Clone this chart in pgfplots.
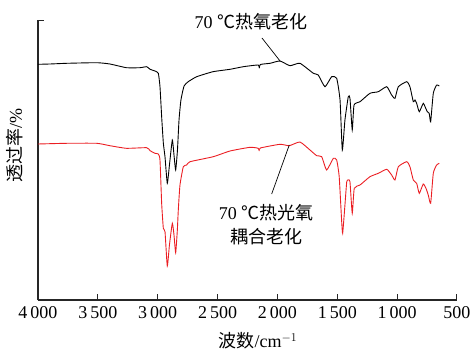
\documentclass[border=0pt]{standalone}
\usepackage{pgfplots}
\pgfplotsset{compat=1.18}
\usepackage{fontspec}
\setmainfont{Liberation Serif}
\newfontfamily\cjk{Noto Sans CJK SC}
\definecolor{myred}{RGB}{235,30,35}
\begin{document}
\begin{tikzpicture}
\path[use as bounding box] (-38bp,-52bp) rectangle (435bp,300bp);
\begin{axis}[
  scale only axis, width=419bp, height=280bp,
  at={(0,0)}, anchor=south west,
  x dir=reverse, xmin=500, xmax=4000, ymin=0, ymax=280,
  axis x line=bottom, axis y line=left,
  axis line style={-, line width=1.1bp, black!85},
  xtick={500,1000,1500,2000,2500,3000,3500,4000},
  xticklabels={500,1\,000,1\,500,2\,000,2\,500,3\,000,3\,500,4\,000},
  ytick={280}, yticklabels={},
  tick align=inside, major tick length=6bp,
  tick style={line width=1bp, black!85},
  font=\fontsize{18bp}{21bp}\selectfont,
  /pgf/number format/assume math mode=true,
  xticklabel style={yshift=-3bp},
  clip=false,
]
\addplot[black, line width=0.9bp, smooth, tension=0.3] coordinates {
(4000,235.7)(3900,236)(3761,236.7)(3510,237.3)(3399,236)(3261,232.3)(3148,232.3)
(3092,233.3)(3064,230.7)(3023,229)(2995,226.7)(2981,213.3)(2967,183.3)(2953,157)
(2939,143)(2920,116.7)(2902,135)(2878,160)(2864,145)(2850,130)(2835,150)(2822,180)
(2806,200)(2780,214)(2745,218.3)(2674,223.3)(2538,228.3)(2396,230.7)(2285,233.3)
(2160,235)(2152,231.7)(2143,235.5)(2062,236.7)(1979,239)(1895,234.3)(1812,236.7)
(1700,226.7)(1659,225)(1603,213.3)(1547,223.3)(1505,221.7)(1477,200)(1458,150)
(1436,180)(1408,203.3)(1394,201.7)(1375,170)(1360,195)(1310,198.3)(1227,206.7)
(1157,208.3)(1087,213.3)(1046,205)(1018,201.7)(990,213.3)(920,218.3)(893,213.3)
(865,198.3)(851,200)(837,196.7)(815,188.3)(782,196.7)(767,193.3)(748,188.3)
(732,186.7)(720,178.3)(698,206.7)(670,215)(648,214)
};
\addplot[myred, line width=0.9bp, smooth, tension=0.3] coordinates {
(4000,156)(3761,156.7)(3510,156.7)(3399,154.3)(3261,151.7)(3092,152.3)(3064,149.3)
(3023,146.7)(2995,146)(2981,140)(2967,96.7)(2953,71.7)(2939,68.3)(2920,34)
(2902,55)(2878,76.7)(2864,65)(2850,47.3)(2836,70)(2828,90)(2814,115)(2786,133.3)
(2758,135)(2730,138.3)(2536,143.3)(2396,149)(2229,152.7)(2160,151.7)(2152,149)
(2143,152)(1979,155.7)(1901,154.3)(1812,158)(1728,150)(1672,144.3)(1630,143.3)
(1589,130)(1533,141.7)(1505,140)(1484,123.3)(1464,80)(1455,66.7)(1436,95)
(1421,118.3)(1408,120)(1394,118.3)(1375,86.7)(1358,111.7)(1310,115)(1227,123.3)
(1157,126.7)(1087,130.7)(1046,125)(1018,120)(990,133.3)(920,138.3)(893,133.3)
(865,120)(837,116.7)(815,106.7)(782,116)(759,111.7)(740,105)(720,96.7)(698,126.7)
(670,135)(648,136.7)
};
\draw[line width=0.7bp] (axis cs:2129,262) -- (axis cs:1978,239);
\draw[line width=0.7bp] (axis cs:1901,155) -- (axis cs:2048,106);
\node at (axis cs:2221,278) {70 {\cjk ℃热氧老化}};
\node[align=center, font=\fontsize{18bp}{24bp}\selectfont] at (axis cs:2095,75) {70 {\cjk ℃热光氧}\\{\cjk 耦合老化}};
\node[rotate=90] at (axis description cs:-0.055,0.55) {{\cjk 透过率}/\%};
\node at (axis description cs:0.525,-0.146) {{\cjk 波数}/cm$^{-1}$};
\end{axis}
\end{tikzpicture}
\end{document}
